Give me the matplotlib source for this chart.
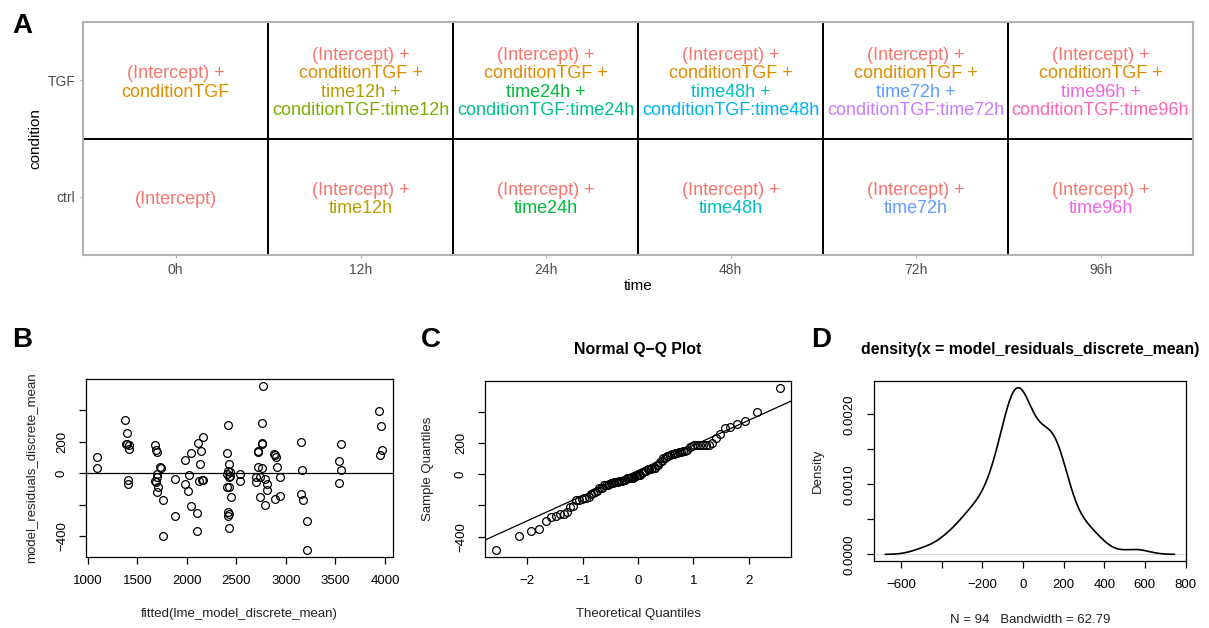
import numpy as np
import matplotlib
matplotlib.use("Agg")
import matplotlib.pyplot as plt
from matplotlib.patches import Rectangle
from statistics import NormalDist

plt.rcParams['font.family'] = ['Liberation Sans', 'DejaVu Sans']

W, H, DPI = 1209, 628, 100

# ---- panel A: model terms for each condition x time cell
times = ["0h", "12h", "24h", "48h", "72h", "96h"]
conditions = ["ctrl", "TGF"]
term_names = ["(Intercept)", "conditionTGF",
              "time12h", "conditionTGF:time12h",
              "time24h", "conditionTGF:time24h",
              "time48h", "conditionTGF:time48h",
              "time72h", "conditionTGF:time72h",
              "time96h", "conditionTGF:time96h"]
term_colors = ["#F8766D", "#DE8C00", "#B79F00", "#7CAE00", "#00BA38", "#00C08B",
               "#00BFC4", "#00B4F0", "#619CFF", "#C77CFF", "#F564E3", "#FF64B0"]

# ---- panels B-D: fitted values and residuals of the mixed model
fitted_vals = [1097, 1097, 1379, 1396, 1392, 1416, 1416, 1409, 1409, 1390,
               1681, 1691, 1701, 1734, 1741, 1701, 1674, 1691, 1695, 1708,
               1694, 1761, 1761, 1879, 1879, 1979, 2042, 2019, 1979, 2016,
               2042, 2116, 2166, 2143, 2126, 2150, 2166, 2100, 2100, 2419,
               2405, 2428, 2419, 2435, 2408, 2438, 2428, 2130, 2890, 2401,
               2424, 2441, 2419, 2424, 2419, 2424, 2535, 2532, 2766, 2763,
               2756, 2719, 2719, 2763, 2703, 2739, 2722, 2703, 2793, 2809,
               2813, 2736, 2786, 2880, 2904, 2910, 2937, 2887, 2937, 3148,
               3165, 3148, 3172, 3215, 3215, 3557, 3533, 3557, 3537, 3943,
               3963, 3966, 3946, 2760]
residuals = [104, 32, 340, 259, 189, 181, 157, -45, -70, 185,
             178, 149, 134, 42, 34, -3, -49, -58, -25, -85,
             -117, -166, -396, -38, -268, 85, 128, -11, -70, -113,
             -207, 191, 232, 142, -49, -45, -43, -253, -364, 304,
             130, 61, 15, 6, -4, -15, -26, 60, 118, -85,
             -89, -153, -245, -258, -271, -349, -2, -49, 557, 321,
             185, 136, 38, 36, -22, -22, 140, -54, -38, -70,
             -108, -153, -202, 123, 106, 40, -22, -160, -145, 198,
             21, -128, -166, -302, -489, 187, 78, 23, -64, 397,
             300, 147, 115, 190]
bandwidth = 62.79

fitted_vals = np.asarray(fitted_vals, dtype=float)
residuals = np.asarray(residuals, dtype=float)


def fx(px):
    return px / W


def fy(py):
    return 1 - py / H


def add_axes_px(left, top, right, bottom):
    return fig.add_axes([fx(left), fy(bottom), (right - left) / W, (bottom - top) / H])


def r_range(vals):
    lo, hi = float(np.min(vals)), float(np.max(vals))
    pad = 0.04 * (hi - lo)
    return lo - pad, hi + pad


def minus(s):
    return s.replace("-", "\u2212")


def cell_terms(cond, time):
    terms = ["(Intercept)"]
    if cond == "TGF":
        terms.append("conditionTGF")
    if time != "0h":
        terms.append("time" + time)
    if cond == "TGF" and time != "0h":
        terms.append("conditionTGF:time" + time)
    return terms


fig = plt.figure(figsize=(W / DPI, H / DPI), dpi=DPI)

# ================= A: tile diagram of model terms =================
axA = add_axes_px(83, 22, 1193, 255)
axA.set_xlim(-0.5, len(times) - 0.5)
axA.set_ylim(-0.5, len(conditions) - 0.5)
color_of = dict(zip(term_names, term_colors))
line_step = 13.4  # points between stacked lines
for i, t in enumerate(times):
    for j, c in enumerate(conditions):
        axA.add_patch(Rectangle((i - 0.5, j - 0.5), 1, 1, fill=False,
                                ec="black", lw=1.3, zorder=1))
        terms = cell_terms(c, t)
        n = len(terms)
        for k, term in enumerate(terms):
            label = term + (" +" if k < n - 1 else "")
            off = ((n - 1) / 2 - k) * line_step - 2.0
            axA.annotate(label, xy=(i, j), xytext=(0, off),
                         textcoords="offset points", ha="center", va="center",
                         color=color_of[term], fontsize=13)
axA.set_xticks(range(len(times)))
axA.set_xticklabels(times)
axA.set_yticks(range(len(conditions)))
axA.set_yticklabels(conditions)
axA.tick_params(length=2.5, width=0.8, color="#B3B3B3", labelcolor="#4D4D4D",
                labelsize=10, pad=3)
for sp in axA.spines.values():
    sp.set_color("#B3B3B3")
    sp.set_linewidth(1.5)
    sp.set_zorder(3)
fig.text(fx(638), fy(286), "time", ha="center", va="center", fontsize=11)
fig.text(fx(35), fy(139), "condition", ha="center", va="center",
         rotation=90, fontsize=11)


def base_style(ax):
    ax.tick_params(direction="out", length=5, width=0.9, labelsize=9.5,
                   pad=8, color="black")
    for sp in ax.spines.values():
        sp.set_linewidth(0.9)
    for lab in ax.get_yticklabels():
        lab.set_rotation(90)
        lab.set_verticalalignment("center")


res_ticks = [-400, -200, 0, 200, 400]
res_labels = ["-400", "", "0", "200", ""]

# ================= B: residuals vs fitted =================
axB = add_axes_px(86, 379, 393, 557)
axB.plot(fitted_vals, residuals, "o", mfc="none", mec="black", ms=5.6, mew=0.9)
axB.axhline(0, color="black", lw=0.9)
axB.set_xlim(*r_range(fitted_vals))
axB.set_ylim(*r_range(residuals))
axB.set_xticks([1000, 1500, 2000, 2500, 3000, 3500, 4000])
axB.set_yticks(res_ticks)
axB.set_yticklabels([minus(s) for s in res_labels])
base_style(axB)
fig.text(fx(239.5), fy(614), "fitted(lme_model_discrete_mean)", ha="center",
         va="center", fontsize=9.5, color="#222222")
fig.text(fx(31), fy(468), "model_residuals_discrete_mean", ha="center",
         va="center", rotation=90, fontsize=9.5, color="#222222")

# ================= C: normal Q-Q plot =================
n = len(residuals)
nd = NormalDist()
probs = (np.arange(1, n + 1) - 0.5) / n
theo = np.array([nd.inv_cdf(p) for p in probs])
sample = np.sort(residuals)
axC = add_axes_px(485, 381, 791, 557)
axC.plot(theo, sample, "o", mfc="none", mec="black", ms=5.6, mew=0.9)
q_y = np.quantile(residuals, [0.25, 0.75])
q_x = np.array([nd.inv_cdf(0.25), nd.inv_cdf(0.75)])
slope = (q_y[1] - q_y[0]) / (q_x[1] - q_x[0])
axC.axline((q_x[0], q_y[0]), slope=slope, color="black", lw=0.9)
axC.set_xlim(*r_range(theo))
axC.set_ylim(*r_range(sample))
axC.set_xticks([-2, -1, 0, 1, 2])
axC.set_xticklabels([minus(str(v)) for v in [-2, -1, 0, 1, 2]])
axC.set_yticks(res_ticks)
axC.set_yticklabels([minus(s) for s in res_labels])
base_style(axC)
fig.text(fx(638), fy(349.5), "Normal Q\u2212Q Plot", ha="center", va="center",
         fontsize=11.4, fontweight="bold")
fig.text(fx(638), fy(614), "Theoretical Quantiles", ha="center", va="center",
         fontsize=9.5, color="#222222")
fig.text(fx(428.5), fy(469), "Sample Quantiles", ha="center", va="center",
         rotation=90, fontsize=9.5, color="#222222")

# ================= D: kernel density of residuals =================
grid = np.linspace(residuals.min() - 3 * bandwidth, residuals.max() + 3 * bandwidth, 512)
z = (grid[:, None] - residuals[None, :]) / bandwidth
dens = np.exp(-0.5 * z ** 2).sum(axis=1) / (n * bandwidth * np.sqrt(2 * np.pi))
axD = add_axes_px(874, 381, 1186, 561)
axD.axhline(0, color="#D9D9D9", lw=0.6)
axD.plot(grid, dens, color="black", lw=1.2)
axD.set_xlim(*r_range(grid))
axD.set_ylim(*r_range(dens))
axD.set_xticks([-600, -400, -200, 0, 200, 400, 600, 800])
axD.set_xticklabels([minus(s) for s in ["-600", "", "-200", "0", "200", "400", "600", "800"]])
axD.set_yticks([0, 0.0005, 0.0010, 0.0015, 0.0020])
axD.set_yticklabels(["0.0000", "", "0.0010", "", "0.0020"])
base_style(axD)
fig.text(fx(1030), fy(349.5), "density(x = model_residuals_discrete_mean)",
         ha="center", va="center", fontsize=11.4, fontweight="bold")
fig.text(fx(1030), fy(620), f"N = {n}   Bandwidth = {bandwidth:.2f}",
         ha="center", va="center", fontsize=9.5, color="#222222")
fig.text(fx(817.5), fy(471), "Density", ha="center", va="center",
         rotation=90, fontsize=9.5, color="#222222")

# ---- panel letters
for letter, x, y in [("A", 12, 33), ("B", 12, 347), ("C", 421, 347), ("D", 811, 347)]:
    fig.text(fx(x), fy(y), letter, ha="left", va="baseline",
             fontsize=20, fontweight="bold")

fig.savefig("out.png", dpi=DPI)
